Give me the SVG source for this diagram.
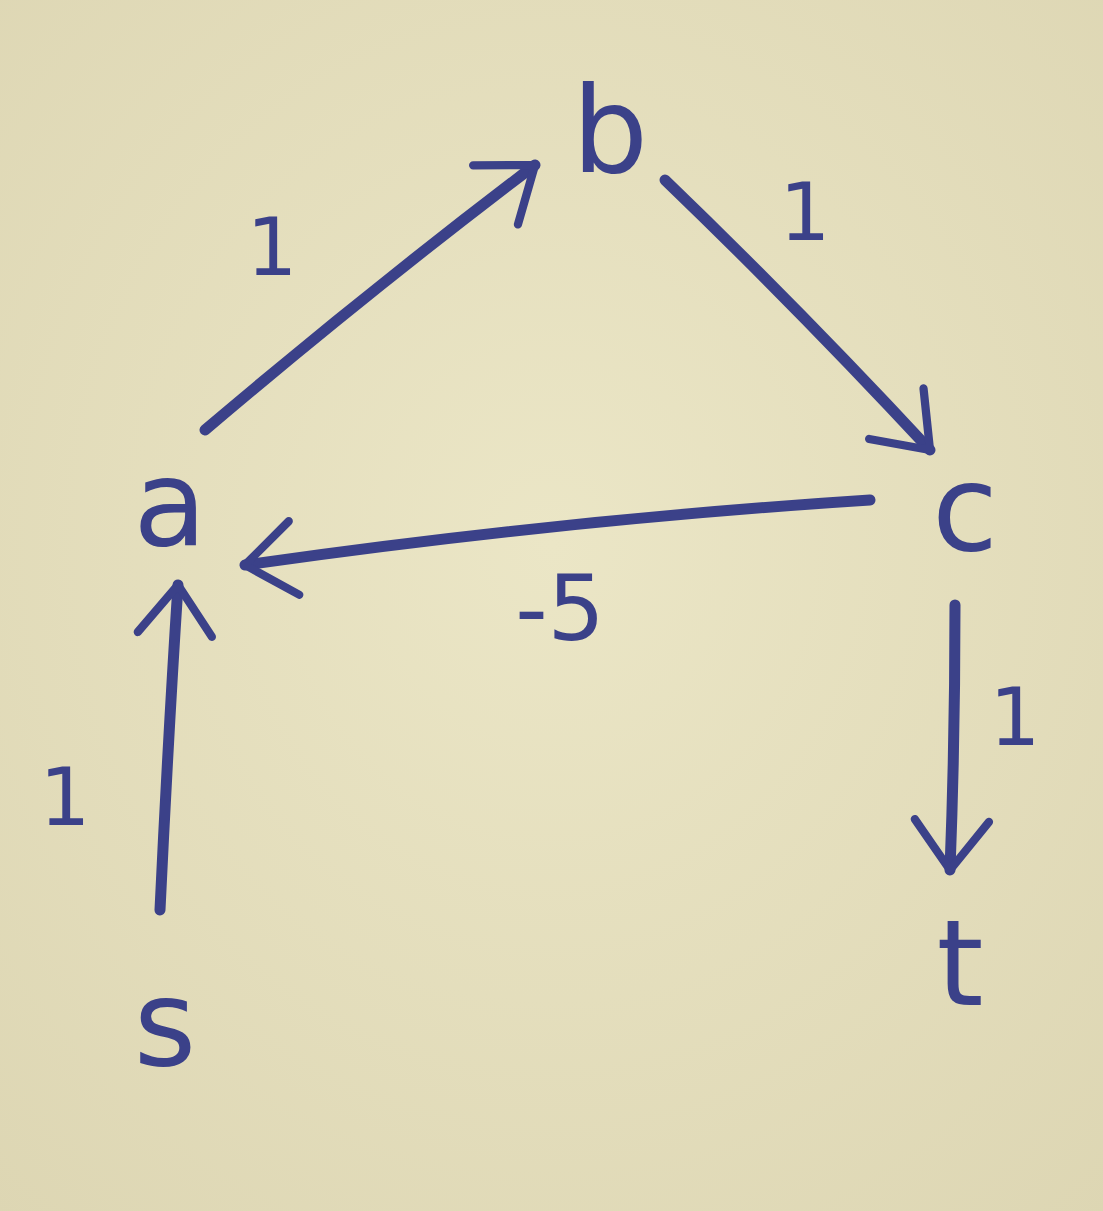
<svg xmlns="http://www.w3.org/2000/svg" width="1103" height="1211" viewBox="0 0 1103 1211">
<defs>
<radialGradient id="paper" cx="50%" cy="45%" r="75%">
<stop offset="0" stop-color="#ebe6c6"/>
<stop offset="1" stop-color="#ddd6b3"/>
</radialGradient>
<marker id="arr" viewBox="-14 -12 16 24" markerWidth="6" markerHeight="9" refX="0" refY="0" orient="auto" markerUnits="strokeWidth">
<polyline points="-12,-9 0,0 -12,9" fill="none" stroke="#3b4189" stroke-width="2" stroke-linecap="round" stroke-linejoin="round"/>
</marker>
<style>
.ink{fill:none;stroke:#3b4189;stroke-width:11;stroke-linecap:round;stroke-linejoin:round}
.lbl{font-family:"DejaVu Sans","Liberation Sans",sans-serif;fill:#3b4189;text-anchor:middle}
.node{font-family:"DejaVu Sans","Liberation Sans",sans-serif;fill:#3b4189;text-anchor:middle;font-size:120px}
</style>
</defs>
<rect width="1103" height="1211" fill="url(#paper)"/>
<g id="connectors">
<path class="ink" d="M205,430 Q370,290 535,165" marker-end="url(#arr)"/>
<path class="ink" d="M665,180 Q800,310 930,450" marker-end="url(#arr)"/>
<path class="ink" d="M870,500 Q560,520 245,565" marker-end="url(#arr)"/>
<path class="ink" d="M160,910 Q168,740 178,585" marker-end="url(#arr)"/>
<path class="ink" d="M955,605 Q955,740 950,870" marker-end="url(#arr)"/>
<text class="lbl" x="272" y="275" font-size="80">1</text>
<text class="lbl" x="805" y="240" font-size="80">1</text>
<text class="lbl" x="560" y="640" font-size="90">-5</text>
<text class="lbl" x="65" y="825" font-size="80">1</text>
<text class="lbl" x="1015" y="745" font-size="80">1</text>
</g>
<g id="node-b"><text class="node" x="610" y="172">b</text></g>
<g id="node-a"><text class="node" x="170" y="545">a</text></g>
<g id="node-c"><text class="node" x="965" y="550">c</text></g>
<g id="node-s"><text class="node" x="165" y="1065">s</text></g>
<g id="node-t"><text class="node" x="960" y="1005">t</text></g>
</svg>
